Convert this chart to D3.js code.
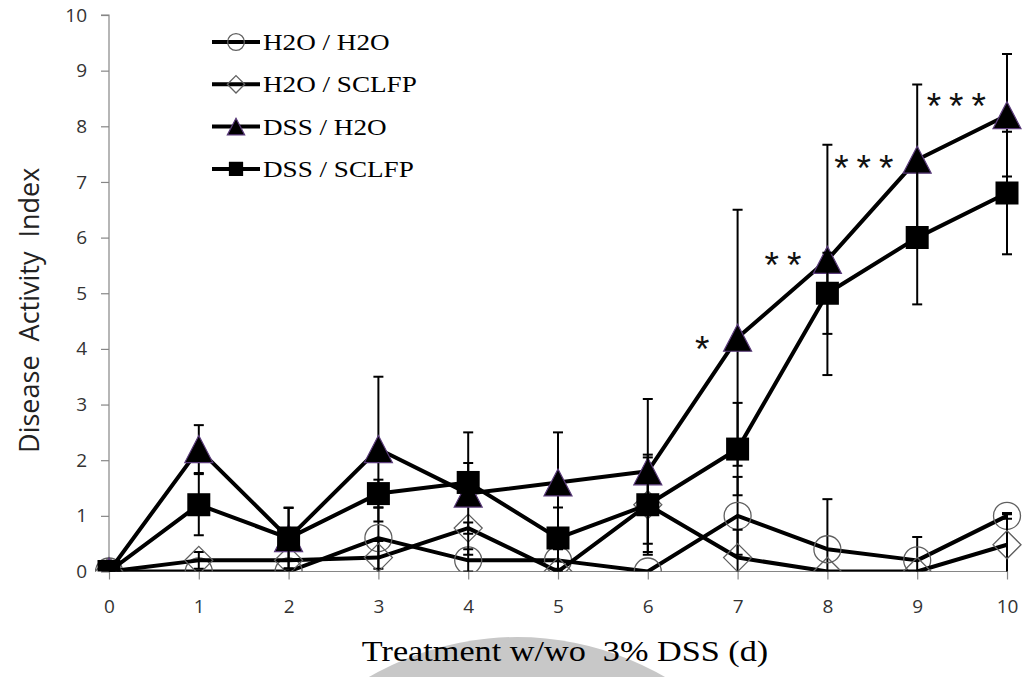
<!DOCTYPE html>
<html>
<head>
<meta charset="utf-8">
<script src="https://cdn.jsdelivr.net/npm/d3@7"></script>
<style>
  body { margin: 0; background: #fff; }
  svg { display: block; }
  text { white-space: pre; }
</style>
</head>
<body>
<div id="chart"></div>
<script>
// Days of treatment (x categories).
const days = [0, 1, 2, 3, 4, 5, 6, 7, 8, 9, 10];
const yTicks = [0, 1, 2, 3, 4, 5, 6, 7, 8, 9, 10];

// Mean disease activity index per group, and its error (SD).
const h2oH2o = [0, 0, 0, 0.6, 0.2, 0.2, 0, 1.0, 0.4, 0.2, 1.0];
const h2oH2oErr = [0, 0, 0, 0.55, 0.2, 0.2, 0, 0.7, 0.9, 0.42, 0.05];
const h2oSclfp = [0, 0.2, 0.2, 0.25, 0.78, 0, 1.2, 0.25, 0, 0, 0.48];
const h2oSclfpErr = [0, 0.15, 0, 0.3, 0.1, 0, 0.9, 0.5, 0, 0, 0.55];
const dssH2o = [0, 2.2, 0.6, 2.2, 1.4, 1.6, 1.8, 4.2, 5.6, 7.4, 8.2];
const dssH2oErr = [0, 0.43, 0.54, 1.3, 1.1, 0.9, 1.3, 2.3, 2.07, 1.35, 1.1];
const dssSclfp = [0, 1.2, 0.6, 1.4, 1.6, 0.6, 1.2, 2.2, 5.0, 6.0, 6.8];
const dssSclfpErr = [0, 0.55, 0.55, 0.25, 0.35, 0.55, 0.85, 0.83, 0.73, 1.2, 1.1];

const seriesNames = ['H2O / H2O', 'H2O / SCLFP', 'DSS / H2O', 'DSS / SCLFP'];
const seriesMarkers = ['circle', 'diamond', 'triangle', 'square'];

// Significance marks, placed in data units.
const sigLabels = ['*', '**', '***', '***'];
const sigX = [6.65, 7.55, 8.45, 9.48];
const sigY = [4.14, 5.65, 7.4, 8.5];

const yLabel = 'Disease  Activity  Index';
const xLabel = 'Treatment w/wo  3% DSS (d)';

// -----------------------------------------------------------------
const series = [
  { name: seriesNames[0], marker: seriesMarkers[0], values: h2oH2o, err: h2oH2oErr },
  { name: seriesNames[1], marker: seriesMarkers[1], values: h2oSclfp, err: h2oSclfpErr },
  { name: seriesNames[2], marker: seriesMarkers[2], values: dssH2o, err: dssH2oErr },
  { name: seriesNames[3], marker: seriesMarkers[3], values: dssSclfp, err: dssSclfpErr },
];

const width = 1025;
const height = 677;
const axisColor = '#868686';
const sans = '"Open Sans", "Noto Sans", sans-serif';
const serif = '"Liberation Serif", "DejaVu Serif", serif';
// The serif texts in the original look stretched sideways.
const stretch = 1.18;

var x = d3.scaleLinear().domain([0, 10]).range([109, 1007]);
var y = d3.scaleLinear().domain([0, 10]).range([571.5, 15]);

// Marker outline for a given type, centred on 0,0. s is the scale factor.
function markerPath(type, s) {
  const p = d3.path();
  if (type === 'circle') {
    p.arc(0, 0, 13.5 * s, 0, Math.PI * 2);
  } else if (type === 'diamond') {
    const r = 14 * s;
    p.moveTo(0, -r); p.lineTo(r, 0); p.lineTo(0, r); p.lineTo(-r, 0);
  } else if (type === 'triangle') {
    const w = 14 * s, h = 13.5 * s;
    p.moveTo(0, -h); p.lineTo(w, h); p.lineTo(-w, h);
  } else {
    const r = 11.5 * s;
    p.rect(-r, -r, 2 * r, 2 * r);
  }
  p.closePath();
  return p.toString();
}

function styleMarker(sel, type) {
  if (type === 'circle' || type === 'diamond') {
    sel.attr('fill', 'none').attr('stroke', '#606060').attr('stroke-width', 1.3);
  } else if (type === 'triangle') {
    sel.attr('fill', '#000').attr('stroke', '#5a3b7a').attr('stroke-width', 1.2);
  } else {
    sel.attr('fill', '#000').attr('stroke', 'none');
  }
}

var $svg = d3.select('#chart')
  .append('svg')
  .attr('width', width)
  .attr('height', height)
  .style('font-family', sans);

$svg.append('rect').attr('width', width).attr('height', height).attr('fill', '#fff');

// Faint watermark dome behind the x axis title.
$svg.append('circle')
  .attr('cx', 517).attr('cy', 931).attr('r', 294)
  .attr('fill', '#c8c8c8');

$svg.append('defs').append('clipPath').attr('id', 'plot-clip')
  .append('rect')
  .attr('x', 95).attr('y', y(10) - 5)
  .attr('width', 930).attr('height', y(0) - y(10) + 5);

// Axes.
var yAxis = d3.axisLeft(y).tickValues(yTicks).tickSize(8).tickPadding(14).tickFormat(d3.format('d'));
var xAxis = d3.axisBottom(x).tickValues(days).tickSize(8).tickPadding(20).tickFormat(d3.format('d'));

var yAx = $svg.append('g').attr('class', 'y axis')
  .attr('transform', `translate(${x(0)},0)`)
  .call(yAxis);
var xAx = $svg.append('g').attr('class', 'x axis')
  .attr('transform', `translate(0,${y(0)})`)
  .call(xAxis);

[yAx, xAx].forEach(ax => {
  ax.select('.domain').attr('stroke', axisColor).attr('stroke-width', 1.2);
  ax.selectAll('.tick line').attr('stroke', axisColor).attr('stroke-width', 1.2);
  ax.selectAll('.tick text')
    .attr('fill', '#333')
    .style('font-family', sans)
    .style('font-size', '19px');
});
xAx.select('.domain').attr('d', `M${x(0)},0H${x(10)}`);
yAx.select('.domain').attr('d', `M-8,${y(10)}H0V${y(0)}`);

// Data.
var $data = $svg.append('g').attr('class', 'data-canvas').attr('clip-path', 'url(#plot-clip)');

series.forEach(s => {
  const pts = days.map((d, i) => ({ day: d, v: s.values[i], e: s.err[i] }));
  const g = $data.append('g').attr('class', 'series');

  g.append('path')
    .datum(pts)
    .attr('fill', 'none')
    .attr('stroke', '#000')
    .attr('stroke-width', 4)
    .attr('stroke-linejoin', 'round')
    .attr('d', d3.line().x(p => x(p.day)).y(p => y(p.v)));

  const bars = g.selectAll('g.err').data(pts.filter(p => p.e > 0))
    .enter().append('g').attr('class', 'err')
    .attr('stroke', '#000').attr('stroke-width', 2);
  bars.append('line')
    .attr('x1', p => x(p.day)).attr('x2', p => x(p.day))
    .attr('y1', p => y(p.v + p.e)).attr('y2', p => y(p.v - p.e));
  bars.append('line')
    .attr('x1', p => x(p.day) - 5).attr('x2', p => x(p.day) + 5)
    .attr('y1', p => y(p.v + p.e)).attr('y2', p => y(p.v + p.e));
  bars.append('line')
    .attr('x1', p => x(p.day) - 5).attr('x2', p => x(p.day) + 5)
    .attr('y1', p => y(p.v - p.e)).attr('y2', p => y(p.v - p.e));

  g.selectAll('path.marker').data(pts)
    .enter().append('path')
    .attr('class', 'marker')
    .attr('transform', p => `translate(${x(p.day)},${y(p.v)})`)
    .attr('d', markerPath(s.marker, 1))
    .call(styleMarker, s.marker);
});

// Significance asterisks.
$svg.append('g').attr('class', 'sig')
  .selectAll('text').data(sigLabels)
  .enter().append('text')
  .attr('x', (d, i) => x(sigX[i]))
  .attr('y', (d, i) => y(sigY[i]) + 21)
  .attr('text-anchor', 'middle')
  .style('font-family', '"Liberation Sans", Arial, sans-serif')
  .style('font-size', '37px')
  .style('letter-spacing', '8px')
  .attr('fill', '#111')
  .text(d => d);

// Legend.
var legend = $svg.append('g').attr('class', 'legend')
  .selectAll('g').data(series)
  .enter().append('g')
  .attr('transform', (d, i) => `translate(212,${42 + i * 42.3})`);
legend.append('line')
  .attr('x1', 0).attr('x2', 48)
  .attr('stroke', '#000').attr('stroke-width', 4);
legend.append('path')
  .attr('transform', 'translate(24,0)')
  .attr('d', d => markerPath(d.marker, 0.62))
  .each(function (d) { d3.select(this).call(styleMarker, d.marker); });
legend.append('text')
  .attr('transform', `translate(51,8) scale(${stretch},1)`)
  .style('font-family', serif)
  .style('font-size', '23px')
  .attr('fill', '#000')
  .text(d => d.name);

// Axis titles.
$svg.append('text')
  .attr('transform', `translate(39,${(y(0) + y(10)) / 2 + 17}) rotate(-90)`)
  .attr('text-anchor', 'middle')
  .style('font-family', sans)
  .style('font-size', '27px')
  .attr('fill', '#222')
  .text(yLabel);

$svg.append('text')
  .attr('transform', `translate(565,661) scale(${stretch},1)`)
  .attr('text-anchor', 'middle')
  .style('font-family', serif)
  .style('font-size', '29px')
  .attr('fill', '#000')
  .text(xLabel);
</script>
</body>
</html>
